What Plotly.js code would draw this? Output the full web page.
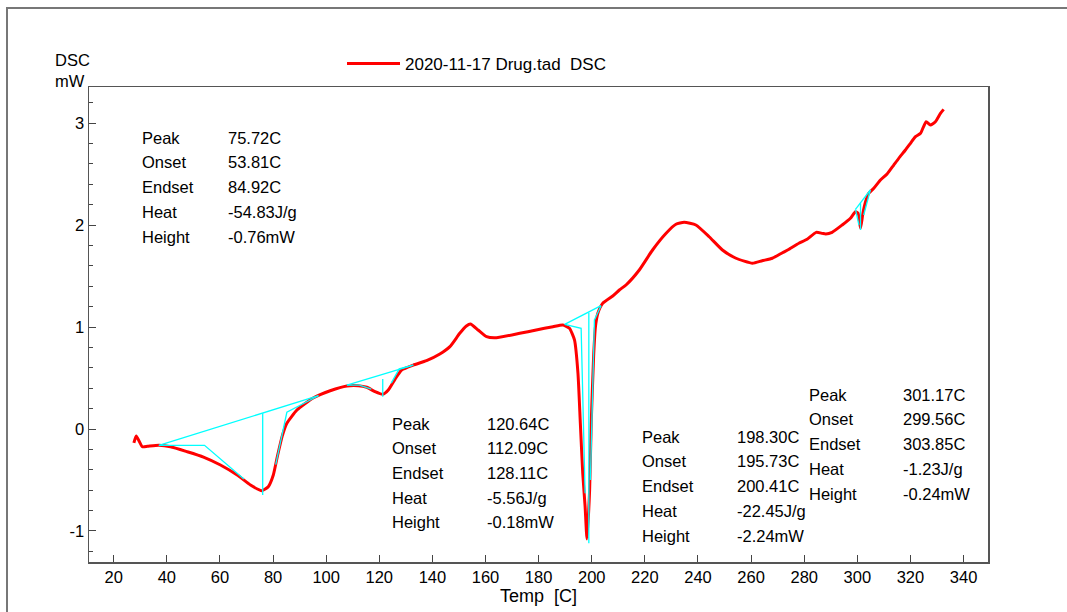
<!DOCTYPE html>
<html>
<head>
<meta charset="utf-8">
<script src="https://cdn.plot.ly/plotly-3.0.1.min.js"></script>
<style>html,body{margin:0;padding:0;background:#fff;}#chart{width:1067px;height:612px;}</style>
</head>
<body>
<div id="chart"></div>
<script>
// ---- DSC curve (Temp [C], DSC [mW]) ----
const temp = [27.6, 28.5, 30.8, 32.7, 37.0, 41.4, 47.7, 53.8, 60.2, 66.5, 71.5, 75.8, 78.2, 80.1, 81.6, 83.4, 85.2, 89.0, 95.1, 101.5,
  107.8, 112.1, 115.3, 118.4, 121.3, 123.4, 125.9, 128.4, 132.8, 137.8, 142.8, 146.6, 150.3, 152.8, 154.3, 157.2, 160.4, 164.1, 172.9, 179.1,
  185.4, 189.1, 191.6, 193.5, 194.8, 195.7, 196.6, 197.5, 198.2, 199.2, 199.8, 200.7, 201.4, 202.3, 204.1, 207.9, 210.4, 212.9, 217.9, 222.9,
  228.0, 231.7, 234.8, 239.2, 244.2, 249.2, 254.3, 260.5, 264.2, 268.0, 271.8, 274.3, 278.0, 281.1, 284.5, 286.8, 288.1, 290.5, 294.3, 297.4,
  299.3, 300.3, 301.2, 302.1, 303.1, 304.3, 306.2, 308.7, 311.2, 313.7, 315.6, 318.1, 320.0, 321.9, 323.8, 325.9, 327.5, 329.4, 331.3, 332.5];
const dsc = [-0.137, -0.069, -0.174, -0.170, -0.160, -0.174, -0.223, -0.275, -0.353, -0.451, -0.549, -0.605, -0.566, -0.451, -0.272, -0.075, 0.056, 0.186, 0.304, 0.375,
  0.422, 0.425, 0.409, 0.366, 0.340, 0.382, 0.487, 0.578, 0.627, 0.670, 0.735, 0.807, 0.938, 1.010, 1.029, 0.971, 0.905, 0.895, 0.938, 0.971,
  1.003, 1.020, 0.987, 0.873, 0.549, 0.059, -0.431, -0.762, -1.078, -0.598, 0.059, 0.709, 1.003, 1.134, 1.232, 1.304, 1.363, 1.412, 1.559, 1.755,
  1.919, 2.007, 2.026, 2.000, 1.885, 1.755, 1.674, 1.625, 1.650, 1.674, 1.728, 1.762, 1.821, 1.860, 1.928, 1.918, 1.912, 1.928, 2.000, 2.066,
  2.130, 2.115, 1.968, 2.115, 2.228, 2.311, 2.360, 2.441, 2.500, 2.588, 2.654, 2.735, 2.801, 2.866, 2.899, 3.013, 2.980, 3.013, 3.095, 3.134];

// ---- peak evaluation construction lines (baselines, tangents, peak verticals) ----
const evalX = [37.0, 97.1, null, 37.0, 54.2, 69.0, null, 76.1, 76.1, null, 97.1, 85.2, 81.0, null,
  107.8, 132.8, null, 121.3, 121.3, null, 107.8, 112.5, 117.0, null, 132.8, 127.5, 124.5, null,
  189.8, 203.5, null, 189.8, 196.0, 197.5, null, 198.9, 198.9, null, 203.5, 201.0, 199.5, null,
  299.3, 304.9, null, 301.2, 301.2, null, 299.3, 300.6, null, 304.9, 302.4];
const evalY = [-0.160, 0.326, null, -0.160, -0.160, -0.49, null, 0.154, -0.647, null, 0.326, 0.164, -0.35, null,
  0.431, 0.627, null, 0.490, 0.317, null, 0.431, 0.430, 0.39, null, 0.627, 0.59, 0.45, null,
  1.026, 1.209, null, 1.026, 0.987, -0.630, null, 1.140, -1.121, null, 1.209, 1.069, -0.5, null,
  2.154, 2.343, null, 2.213, 1.951, null, 2.154, 2.0, null, 2.343, 2.098];

// ---- evaluation result tables ----
const resultLabels = ['Peak', 'Onset', 'Endset', 'Heat', 'Height'];
const result1 = ['75.72C', '53.81C', '84.92C', '-54.83J/g', '-0.76mW'];
const result2 = ['120.64C', '112.09C', '128.11C', '-5.56J/g', '-0.18mW'];
const result3 = ['198.30C', '195.73C', '200.41C', '-22.45J/g', '-2.24mW'];
const result4 = ['301.17C', '299.56C', '303.85C', '-1.23J/g', '-0.24mW'];

// ---- axis ticks and titles ----
const yTickVals = [-1, 0, 1, 2, 3];
const yTickText = ['-1', '0', '1', '2', '3'];
const seriesName = '2020-11-17 Drug.tad  DSC';
const xTitle = 'Temp  [C]';
const yTitle = 'DSC<br>mW';

// ---- layout geometry (pixels) ----
const W = 1067, H = 612;
const M = {l: 89, r: 79, t: 87, b: 50};
const PW = W - M.l - M.r, PH = H - M.t - M.b;
const px2x = p => (p - M.l) / PW;
const py2y = p => (H - M.b - p) / PH;

const FONT = 'Arial, "Liberation Sans", Helvetica, sans-serif';
const TXT = 16.5;
const annotations = [];
function addTable(vals, lx, vx, ys) {
  resultLabels.forEach((lab, i) => {
    annotations.push({xref: 'paper', yref: 'paper', x: px2x(lx), y: py2y(ys[i]), xanchor: 'left', yanchor: 'middle',
      text: lab, showarrow: false, font: {family: FONT, size: TXT, color: '#000'}});
    annotations.push({xref: 'paper', yref: 'paper', x: px2x(vx), y: py2y(ys[i]), xanchor: 'left', yanchor: 'middle',
      text: vals[i], showarrow: false, font: {family: FONT, size: TXT, color: '#000'}});
  });
}
addTable(result1, 140, 226, [138, 162, 187, 212, 237]);
addTable(result2, 390, 485, [424, 448, 473, 498, 522]);
addTable(result3, 640, 735, [437, 461, 486, 511, 536]);
addTable(result4, 807, 901, [395, 419, 444, 469, 494]);
annotations.push({xref: 'paper', yref: 'paper', x: px2x(53), y: py2y(49), xanchor: 'left', yanchor: 'top',
  text: yTitle, showarrow: false, align: 'left', font: {family: FONT, size: 16.5, color: '#000'}});

const traces = [
  {x: temp, y: dsc, type: 'scatter', mode: 'lines', name: seriesName,
   line: {color: '#ff0000', width: 3, shape: 'spline', smoothing: 0.5}, showlegend: true},
  {x: evalX, y: evalY, type: 'scatter', mode: 'lines', name: 'evaluation',
   line: {color: '#00ffff', width: 1.3}, showlegend: false, connectgaps: false, hoverinfo: 'skip'}
];

const layout = {
  width: W, height: H,
  margin: M,
  paper_bgcolor: '#fff', plot_bgcolor: '#fff',
  font: {family: FONT, size: TXT, color: '#000'},
  showlegend: true,
  legend: {orientation: 'h', x: px2x(342), y: py2y(46), xanchor: 'left', yanchor: 'top', itemwidth: 53,
    font: {family: FONT, size: 17, color: '#000'}, bgcolor: 'rgba(0,0,0,0)'},
  xaxis: {range: [10.7, 349.2], tick0: 0, dtick: 20, ticks: 'inside', ticklen: 7, tickcolor: '#444',
    showline: true, mirror: true, linecolor: '#555', linewidth: 1.5, showgrid: false, zeroline: false,
    tickfont: {family: FONT, size: TXT, color: '#000'},
    title: {text: xTitle, standoff: 2, font: {family: FONT, size: 18, color: '#000'}}},
  yaxis: {range: [-1.304, 3.353], tickmode: 'array', tickvals: yTickVals, ticktext: yTickText,
    ticks: 'inside', ticklen: 7, tickcolor: '#444',
    minor: {tick0: 0, dtick: 0.2, ticks: 'inside', ticklen: 4, tickcolor: '#444', showgrid: false},
    showline: true, mirror: true, linecolor: '#555', linewidth: 1.5, showgrid: false, zeroline: false,
    tickfont: {family: FONT, size: TXT, color: '#000'}},
  annotations: annotations,
  shapes: [{type: 'rect', xref: 'paper', yref: 'paper', x0: px2x(7), x1: px2x(1080), y0: py2y(625), y1: py2y(8),
    line: {color: '#777', width: 2}, fillcolor: 'rgba(0,0,0,0)', layer: 'below'}]
};

Plotly.newPlot('chart', traces, layout, {displayModeBar: false, staticPlot: true});
</script>
</body>
</html>
